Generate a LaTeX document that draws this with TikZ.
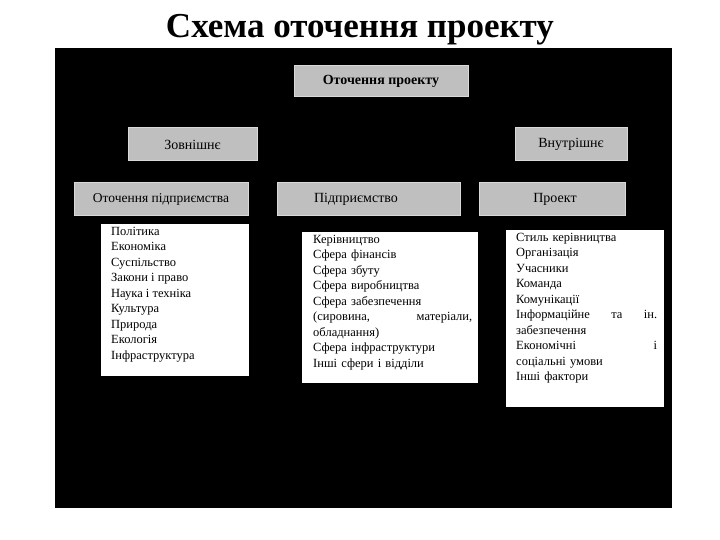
\documentclass[tikz,border=0pt]{standalone}
\usepackage{fontspec}
\setmainfont{Liberation Serif}
\begin{document}
\begin{tikzpicture}[x=1pt,y=-1pt,
  gbox/.style={fill=gray!50,draw=gray!30,line width=1pt,font=\fontsize{13}{15}\selectfont},
  wbox/.style={fill=white,draw=none},
  lst/.style={anchor=north west,align=left,inner sep=0pt,font=\fontsize{12.5}{15.5}\selectfont}]
\useasboundingbox (0,0) rectangle (720,540);
\fill[white] (0,0) rectangle (720,540);
\node (title) at (360,30) {\fontsize{35}{38}\selectfont\bfseries Схема оточення проекту};
\fill[black] (55,48) rectangle (672,508);
\draw[gbox] (294,66) rectangle (468,97);
\node[font=\fontsize{14}{16}\selectfont\bfseries] (op) at (381,81.5) {Оточення проекту};
\draw[gbox] (128,128) rectangle (257,161);
\node[font=\fontsize{14}{16}\selectfont] (zn) at (192.5,144.5) {Зовнішнє};
\draw[gbox] (515,128) rectangle (627,161);
\node[font=\fontsize{14}{16}\selectfont] (vn) at (571,144.5) {Внутрішнє};
\draw[gbox] (74,183) rectangle (248,216);
\node[font=\fontsize{13.5}{16}\selectfont] (opd) at (161,199.5) {Оточення підприємства};
\draw[gbox] (277,183) rectangle (460,216);
\node[font=\fontsize{14}{16}\selectfont] (pd) at (356,199.5) {Підприємство};
\draw[gbox] (479,183) rectangle (625,216);
\node[font=\fontsize{14}{16}\selectfont] (pr) at (555,199.5) {Проект};
\fill[white] (101,224) rectangle (249,376);
\fill[white] (302,232) rectangle (478,383);
\fill[white] (506,230) rectangle (664,407);
\node[lst] (l1) at (111,227) {Політика\\Економіка\\Суспільство\\Закони і право\\Наука і техніка\\Культура\\Природа\\Екологія\\Інфраструктура};
\node[lst,text width=159pt] (l2) at (313,235) {Керівництво\\Сфера фінансів\\Сфера збуту\\Сфера виробництва\\Сфера забезпечення\\\leavevmode\hbox to 159pt{(сировина,\hfill матеріали,}\\обладнання)\\Сфера інфраструктури\\Інші сфери і відділи};
\node[lst,text width=141pt] (l3) at (516,233) {Стиль керівництва\\Організація\\Учасники\\Команда\\Комунікації\\\leavevmode\hbox to 141pt{Інформаційне\hfill та\hfill ін.}\\забезпечення\\\leavevmode\hbox to 141pt{Економічні\hfill і}\\соціальні умови\\Інші фактори};
\end{tikzpicture}
\end{document}
